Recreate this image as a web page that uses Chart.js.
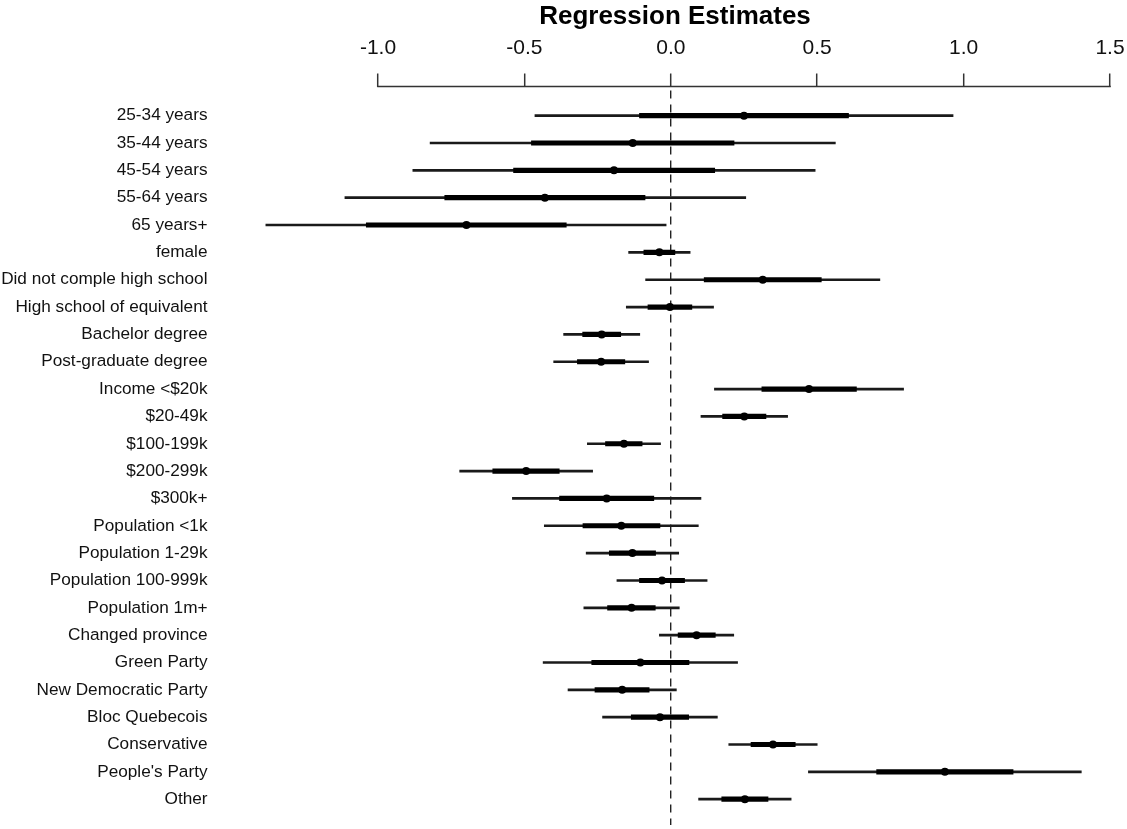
<!DOCTYPE html>
<html><head><meta charset="utf-8">
<script src="https://cdn.jsdelivr.net/npm/chart.js@4"></script>
<style>html,body{margin:0;padding:0;background:#fff;overflow:hidden}canvas{display:block}</style>
</head><body><canvas id="c" width="1127" height="829" style="width:1127px;height:829px"></canvas>
<script>
const categories = ["25-34 years","35-44 years","45-54 years","55-64 years","65 years+","female",
  "Did not comple high school","High school of equivalent","Bachelor degree","Post-graduate degree",
  "Income <$20k","$20-49k","$100-199k","$200-299k","$300k+","Population <1k","Population 1-29k",
  "Population 100-999k","Population 1m+","Changed province","Green Party","New Democratic Party",
  "Bloc Quebecois","Conservative","People's Party","Other"];
const estimates = [0.250,-0.130,-0.194,-0.430,-0.698,-0.039,0.314,-0.003,-0.236,-0.238,0.472,0.251,-0.160,
  -0.494,-0.219,-0.169,-0.131,-0.030,-0.134,0.088,-0.104,-0.166,-0.037,0.349,0.936,0.253];
const outerLow = [-0.464,-0.822,-0.881,-1.113,-1.383,-0.144,-0.086,-0.152,-0.366,-0.400,0.149,0.103,-0.285,
  -0.721,-0.541,-0.432,-0.289,-0.184,-0.297,-0.039,-0.436,-0.351,-0.233,0.198,0.470,0.095];
const outerHigh = [0.964,0.562,0.493,0.256,-0.016,0.066,0.714,0.146,-0.106,-0.076,0.795,0.399,-0.035,
  -0.267,0.103,0.094,0.027,0.124,0.029,0.215,0.228,0.019,0.159,0.500,1.402,0.411];
const innerLow = [-0.107,-0.476,-0.537,-0.772,-1.040,-0.092,0.114,-0.078,-0.301,-0.319,0.311,0.177,-0.223,
  -0.608,-0.380,-0.300,-0.210,-0.107,-0.216,0.025,-0.270,-0.259,-0.135,0.274,0.703,0.174];
const innerHigh = [0.607,0.216,0.150,-0.088,-0.357,0.014,0.514,0.072,-0.171,-0.157,0.634,0.325,-0.098,
  -0.381,-0.058,-0.037,-0.052,0.047,-0.053,0.152,0.062,-0.074,0.061,0.425,1.169,0.332];
const xTickValues = [-1.0,-0.5,0.0,0.5,1.0,1.5];
const xTickLabels = ["-1.0","-0.5","0.0","0.5","1.0","1.5"];
const chartTitle = "Regression Estimates";

Chart.defaults.font.family = "'Liberation Sans', Arial, Helvetica, sans-serif";
Chart.defaults.color = '#111';

const rowPos = categories.map((c, i) => i + 1);

const axisLine = {
  id: 'axisLine',
  afterDraw(chart) {
    const s = chart.scales.x, ctx = chart.ctx;
    ctx.save();
    ctx.strokeStyle = '#333';
    ctx.lineWidth = 1.5;
    ctx.beginPath();
    ctx.moveTo(s.getPixelForValue(xTickValues[0]) - 0.75, s.bottom);
    ctx.lineTo(s.getPixelForValue(xTickValues[xTickValues.length - 1]) + 0.75, s.bottom);
    ctx.stroke();
    ctx.restore();
  }
};

new Chart(document.getElementById('c'), {
  type: 'bar',
  data: {
    datasets: [
      {
        type: 'bar', indexAxis: 'y', grouped: false,
        data: rowPos.map((p, i) => ({ y: p, x: [outerLow[i], outerHigh[i]] })),
        backgroundColor: '#1a1a1a', borderWidth: 0, borderSkipped: false, barThickness: 2,
        xAxisID: 'x', yAxisID: 'y', order: 3
      },
      {
        type: 'bar', indexAxis: 'y', grouped: false,
        data: rowPos.map((p, i) => ({ y: p, x: [innerLow[i], innerHigh[i]] })),
        backgroundColor: '#000', borderWidth: 0, borderSkipped: false, barThickness: 4.5,
        xAxisID: 'x', yAxisID: 'y', order: 2
      },
      {
        type: 'scatter',
        data: rowPos.map((p, i) => ({ x: estimates[i], y: p })),
        backgroundColor: '#000', borderWidth: 0, pointRadius: 4, pointHoverRadius: 4,
        xAxisID: 'x', yAxisID: 'y', order: 1
      }
    ]
  },
  options: {
    responsive: false, maintainAspectRatio: false, animation: false, devicePixelRatio: 1,
    layout: { padding: { left: 0, right: 17, top: 0, bottom: 0 } },
    plugins: { legend: { display: false }, tooltip: { enabled: false }, title: { display: false } },
    scales: {
      x: {
        type: 'linear', position: 'top', min: -1.4713, max: 1.5, offset: false, beginAtZero: false,
        afterBuildTicks: s => { s.ticks = xTickValues.map(v => ({ value: v })); },
        afterFit: s => { s.height = 86.5; s.paddingLeft = 0; s.paddingRight = 0; },
        title: { display: true, text: chartTitle, color: '#000',
          font: { size: 26, weight: 'bold' }, padding: { top: 1, bottom: 0 } },
        ticks: { font: { size: 21 }, color: '#111', padding: 13, maxRotation: 0, autoSkip: false,
          callback: v => xTickLabels[xTickValues.indexOf(v)] },
        grid: {
          offset: false,
          drawOnChartArea: true, drawTicks: true, tickLength: 13, tickWidth: 1.5, tickColor: '#333',
          tickBorderDash: [], lineWidth: 1.4,
          color: ctx => (ctx.tick && ctx.tick.value === 0) ? '#222' : 'rgba(0,0,0,0)'
        },
        border: { display: false, dash: [8, 6], dashOffset: 10.5 }
      },
      y: {
        type: 'linear', position: 'left', reverse: true, min: -0.0669, max: 26.944,
        offset: false, beginAtZero: false,
        afterBuildTicks: s => { s.ticks = rowPos.map(v => ({ value: v })); },
        afterFit: s => { s.width = 240; s.paddingTop = 0; s.paddingBottom = 0; },
        ticks: { font: { size: 17.2 }, color: '#111', padding: 32.5, autoSkip: false,
          callback: v => categories[Math.round(v) - 1] },
        grid: { display: false, drawTicks: false, offset: false },
        border: { display: false }
      }
    }
  },
  plugins: [axisLine]
});
</script></body></html>
